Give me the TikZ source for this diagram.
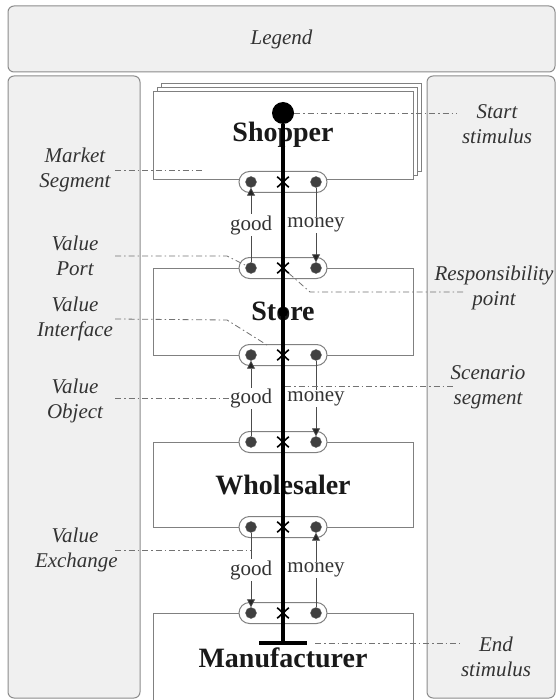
\documentclass[tikz,border=0pt]{standalone}
\usepackage{fontspec}
\setmainfont{Liberation Serif}
\usetikzlibrary{positioning, calc, shapes.misc, shadows, arrows.meta}

\begin{document}
\begin{tikzpicture}[
            x=1pt, y=-1pt,
            panel/.style={draw=black!45, fill=black!6, line width=1pt, rounded corners=6pt},
            actor/.style={rectangle, draw=black!50, fill=white, line width=0.9pt, minimum width=260pt, font=\fontsize{28}{32}\selectfont\bfseries, text=black!90},
            iface/.style={rectangle, draw=black!50, fill=white, line width=1pt, rounded corners=10.5pt, minimum width=88pt, minimum height=21pt},
            port/.style={circle, fill=black!75, draw=black!60, minimum size=11pt, inner sep=0pt},
            % 責任点（×印）
            resp/.style={cross out, draw=black, line width=1.6pt, minimum width=10pt, minimum height=9pt, inner sep=0pt},
            flow/.style={draw=black!70, line width=0.8pt, -{Triangle[width=8pt, length=8pt, fill=black!85]}},
            obj/.style={fill=white, inner sep=1pt, font=\fontsize{21}{25}\selectfont, text=black!80},
            lbl/.style={align=center, text width=80pt, inner sep=0pt, font=\fontsize{21}{25}\selectfont\itshape, text=black!80},
            leader/.style={draw=black!55, line width=0.8pt, dash pattern=on 6pt off 3pt on 1.5pt off 3pt},
            scen/.style={draw=black, line width=4pt}
        ]
            \useasboundingbox (0,0) rectangle (557,700);

            % --- 凡例とパネル ---
            \node[panel, minimum width=547pt, minimum height=66pt, font=\fontsize{21}{25}\selectfont\itshape, text=black!80] (legend) at (281.5,39) {Legend};
            \node[panel, minimum width=132pt, minimum height=622pt] (leftpanel) at (74,387) {};
            \node[panel, minimum width=128pt, minimum height=622pt] (rightpanel) at (491,387) {};

            % --- アクター ---
            \node[actor, minimum height=88pt, double copy shadow={shadow xshift=4pt, shadow yshift=4pt}] (shopper) at (283,135) {Shopper};
            \node[actor, minimum height=87pt] (store) at (283,311.5) {Store};
            \node[actor, minimum height=85pt] (wholesaler) at (283,484.5) {Wholesaler};
            \node[actor, minimum height=90pt] (manufacturer) at (283,658) {Manufacturer};

            % --- 価値インタフェースとポート ---
            \foreach \n/\y in {shI/182, stTI/268, stBI/355, whTI/442, whBI/527, mfI/613} {
                \node[iface] (\n) at (283,\y) {};
                \node[port] (\n-L) at (251,\y) {};
                \node[port] (\n-R) at (316,\y) {};
            }

            % --- 価値交換 ---
            \draw[flow] (stTI-L) -- (shI-L);
            \draw[flow] (shI-R) -- (stTI-R);
            \draw[flow] (whTI-L) -- (stBI-L);
            \draw[flow] (stBI-R) -- (whTI-R);
            \draw[flow] (whBI-L) -- (mfI-L);
            \draw[flow] (mfI-R) -- (whBI-R);

            \node[obj] (good1) at ($(shI-L)!0.5!(stTI-L)$) {good};
            \node[obj] (money1) at ($(shI-R)!0.5!(stTI-R)$) {money};
            \node[obj] (good2) at ($(stBI-L)!0.5!(whTI-L)$) {good};
            \node[obj] (money2) at ($(stBI-R)!0.5!(whTI-R)$) {money};
            \node[obj] (good3) at ($(whBI-L)!0.5!(mfI-L)$) {good};
            \node[obj] (money3) at ($(whBI-R)!0.5!(mfI-R)$) {money};

            % --- シナリオパス ---
            \node[circle, fill=black, minimum size=22pt, inner sep=0pt] (start) at (283,113) {};
            \node[fill=black, minimum width=48pt, minimum height=4pt, inner sep=0pt] (endbar) at (283,643) {};
            \draw[scen] (start) -- (endbar);
            \node[circle, fill=black, minimum size=10pt, inner sep=0pt] (stdot) at (283,312) {};

            \foreach \n in {shI, stTI, stBI, whTI, whBI, mfI}
                \node[resp] (\n-X) at (\n) {};

            % --- 説明ラベル（左） ---
            \node[lbl] (mseg) at (75,170) {Market\\Segment};
            \node[lbl] (vport) at (75,256) {Value\\Port};
            \node[lbl] (vif) at (75,319) {Value\\Interface};
            \node[lbl] (vobj) at (75,401) {Value\\Object};
            \node[lbl] (vex) at (75,550) {Value\\Exchange};

            % --- 説明ラベル（右） ---
            \node[lbl, text width=90pt] (startlbl) at (497,124) {Start\\stimulus};
            \node[lbl, text width=124pt] (rpoint) at (494,288) {Responsibility\\point};
            \node[lbl, text width=100pt] (scenlbl) at (488,387) {Scenario\\segment};
            \node[lbl, text width=90pt] (endlbl) at (496,657) {End\\stimulus};

            % --- 引き出し線 ---
            \coordinate (msegA) at (203,170);
            \coordinate (stimA) at (457,113);
            \coordinate (rpA) at (463,292);
            \coordinate (scenA) at (453,386);
            \coordinate (endA) at (460,643);

            \draw[leader] (mseg.east) -- (msegA);
            \draw[leader] (vport.east) -- (227,256) -- (stTI-L);
            \draw[leader, shorten >=10pt] (vif.east) -- (227,320) -- (stBI-X);
            \draw[leader] (vobj.east |- good2) -- (good2.west);
            \draw[leader] (vex.east) -- (vex.east -| whBI-L);

            \draw[leader] (start.east) -- (stimA);
            \draw[leader] (stTI-X.south east) -- (310,292) -- (rpA);
            \draw[leader] ([xshift=2pt]scenA -| start) -- (scenA);
            \draw[leader, shorten <=8pt] (endbar.east) -- (endA);
        \end{tikzpicture}
\end{document}
